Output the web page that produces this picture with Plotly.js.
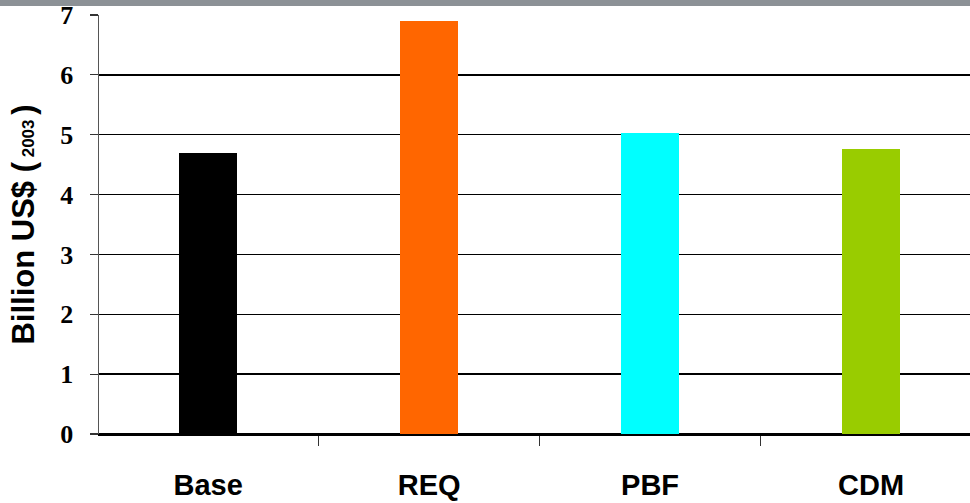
<!DOCTYPE html>
<html>
<head>
<meta charset="utf-8">
<script src="https://cdn.plot.ly/plotly-3.0.1.min.js"></script>
<style>html,body{margin:0;padding:0;background:#fff;}#chart{width:970px;height:503px;}</style>
</head>
<body>
<div id="chart"></div>
<script>
const categories = ["Base", "REQ", "PBF", "CDM"];
const values = [4.69, 6.90, 5.03, 4.76];
const barColors = ["#000000", "#ff6600", "#00ffff", "#99cc00"];
const yTicks = [0, 1, 2, 3, 4, 5, 6, 7];

const trace = {
  type: "bar",
  x: categories,
  y: values,
  width: 0.262,
  marker: {color: barColors, line: {width: 0}},
  hoverinfo: "x+y"
};

const layout = {
  width: 970, height: 503,
  margin: {l: 99, r: 0, t: 15, b: 69},
  paper_bgcolor: "#ffffff",
  plot_bgcolor: "#ffffff",
  showlegend: false,
  bargap: 0,
  xaxis: {
    type: "category",
    range: [-0.494, 3.448],
    tickson: "boundaries",
    ticks: "outside",
    ticklen: 10,
    tickwidth: 1.2,
    tickcolor: "#333333",
    showgrid: false,
    showline: true,
    linecolor: "#000000",
    linewidth: 1.5,
    ticklabelstandoff: 25,
    tickfont: {family: "Liberation Sans, Arial, sans-serif", size: 29, color: "#000000", weight: "bold"}
  },
  yaxis: {
    range: [0, 7],
    tickvals: yTicks,
    ticktext: yTicks.map(String),
    ticks: "outside",
    ticklen: 8,
    tickwidth: 1.2,
    tickcolor: "#333333",
    showgrid: true,
    gridcolor: "#000000",
    gridwidth: 1.5,
    zeroline: true,
    zerolinecolor: "#000000",
    zerolinewidth: 1.5,
    showline: true,
    linecolor: "#555555",
    linewidth: 1.5,
    ticklabelstandoff: 11,
    tickfont: {family: "Liberation Serif, Times New Roman, serif", size: 26, color: "#000000", weight: "bold"},
    title: {
      text: "Billion US$ (<span style='font-size:17px'> 2003 </span>)",
      font: {family: "Liberation Sans, Arial, sans-serif", size: 31, color: "#000000", weight: "bold"},
      standoff: 16
    }
  },
  shapes: [
    {type: "rect", xref: "paper", yref: "paper", x0: -0.2, x1: 1.01, y0: 1.0215, y1: 1.05,
     fillcolor: "#8c9196", line: {width: 0}, layer: "above"}
  ]
};

Plotly.newPlot("chart", [trace], layout, {displayModeBar: false, staticPlot: true});
</script>
</body>
</html>
